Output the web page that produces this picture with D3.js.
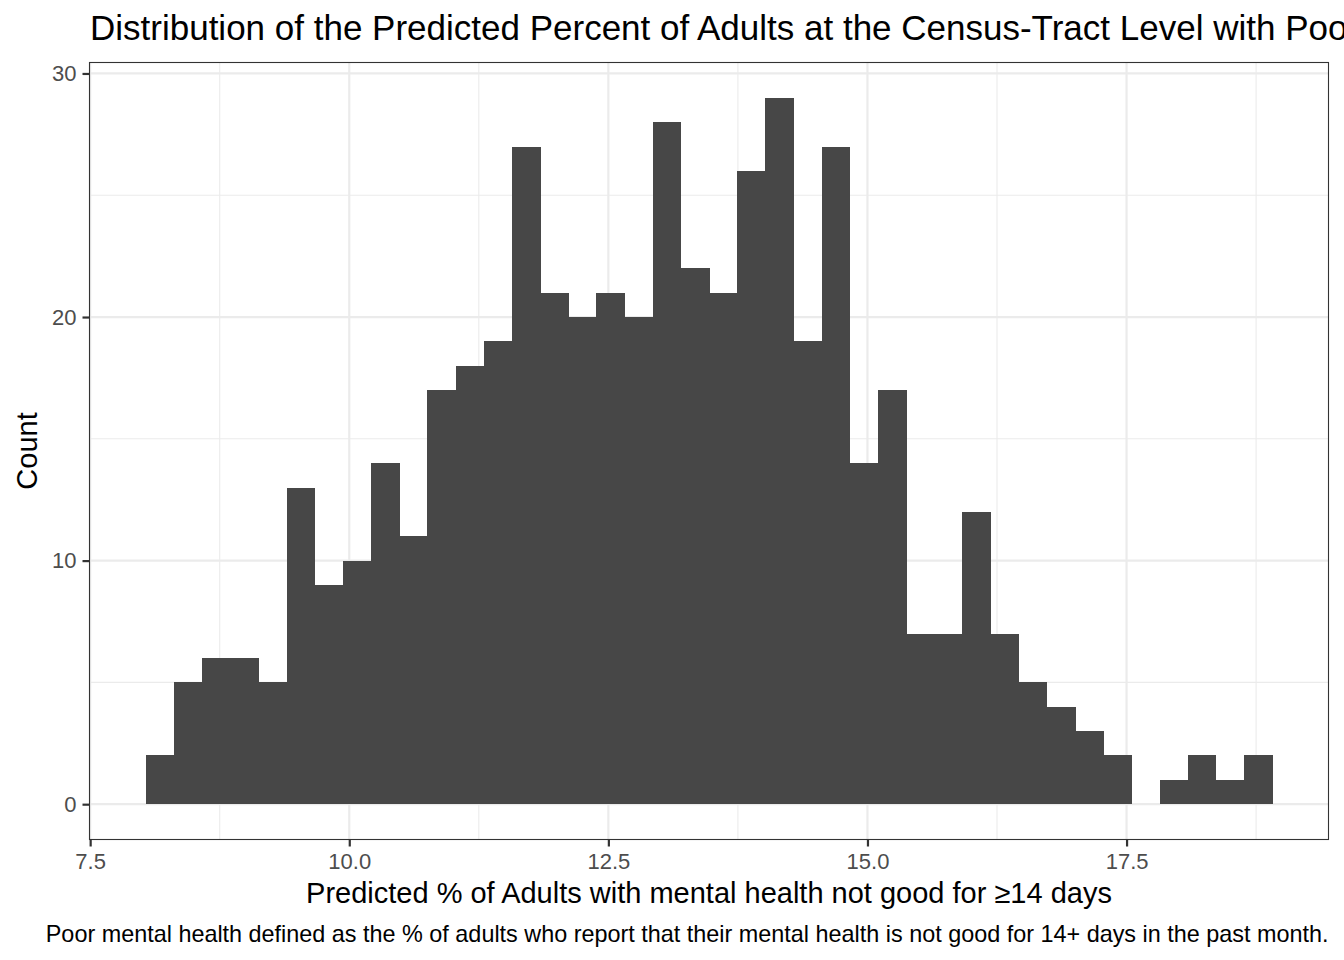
<!DOCTYPE html>
<html>
<head>
<meta charset="utf-8">
<script src="https://cdn.jsdelivr.net/npm/d3@7"></script>
<style>
  html, body { margin: 0; padding: 0; background: #fff; }
  svg { display: block; font-family: "Liberation Sans", Arial, Helvetica, sans-serif; }
</style>
</head>
<body>
<script>
// ---- Data ----
const binStart = 8.037;          // left edge of first bin
const binWidth = 0.2717;         // width of each bin
const counts = [2, 5, 6, 6, 5, 13, 9, 10, 14, 11,
                17, 18, 19, 27, 21, 20, 21, 20, 28, 22,
                21, 26, 29, 19, 27, 14, 17, 7, 7, 12,
                7, 5, 4, 3, 2, 0, 1, 2, 1, 2];
const xTicks = [7.5, 10.0, 12.5, 15.0, 17.5];
const xMinor = [8.75, 11.25, 13.75, 16.25, 18.75];
const yTicks = [0, 10, 20, 30];
const yMinor = [5, 15, 25];
const titleText = "Distribution of the Predicted Percent of Adults at the Census-Tract Level with Poor Mental Health";
const xTitle = "Predicted % of Adults with mental health not good for \u226514 days";
const yTitle = "Count";
const captionText = "Poor mental health defined as the % of adults who report that their mental health is not good for 14+ days in the past month.";

const bins = counts.map((c, i) => ({ x0: binStart + i * binWidth, x1: binStart + (i + 1) * binWidth, count: c }));

// ---- Layout ----
const W = 1344, H = 960;
const panel = { left: 89.5, right: 1328.5, top: 62.5, bottom: 839.5 };

const xMin = binStart, xMax = binStart + counts.length * binWidth;
const xPad = (xMax - xMin) * 0.05;
const x = d3.scaleLinear().domain([xMin - xPad, xMax + xPad]).range([panel.left, panel.right]);
const yMaxC = d3.max(counts);
const y = d3.scaleLinear().domain([-yMaxC * 0.05, yMaxC * 1.05]).range([panel.bottom, panel.top]);

const svg = d3.select("body").append("svg").attr("width", W).attr("height", H);

svg.append("rect").attr("x", panel.left).attr("y", panel.top)
  .attr("width", panel.right - panel.left).attr("height", panel.bottom - panel.top)
  .attr("fill", "#fff");

const grid = svg.append("g");
grid.selectAll(".xminor").data(xMinor).join("line")
  .attr("x1", d => x(d)).attr("x2", d => x(d)).attr("y1", panel.top).attr("y2", panel.bottom)
  .attr("stroke", "#ebebeb").attr("stroke-width", 1.1);
grid.selectAll(".yminor").data(yMinor).join("line")
  .attr("y1", d => y(d)).attr("y2", d => y(d)).attr("x1", panel.left).attr("x2", panel.right)
  .attr("stroke", "#ebebeb").attr("stroke-width", 1.1);
grid.selectAll(".xmajor").data(xTicks).join("line")
  .attr("x1", d => x(d)).attr("x2", d => x(d)).attr("y1", panel.top).attr("y2", panel.bottom)
  .attr("stroke", "#ebebeb").attr("stroke-width", 2.2);
grid.selectAll(".ymajor").data(yTicks).join("line")
  .attr("y1", d => y(d)).attr("y2", d => y(d)).attr("x1", panel.left).attr("x2", panel.right)
  .attr("stroke", "#ebebeb").attr("stroke-width", 2.2);

// Bars
svg.append("g").attr("shape-rendering", "crispEdges").selectAll("rect").data(bins.filter(b => b.count > 0)).join("rect")
  .attr("x", d => x(d.x0))
  .attr("width", d => x(d.x1) - x(d.x0) + 0.5)
  .attr("y", d => y(d.count))
  .attr("height", d => y(0) - y(d.count))
  .attr("fill", "#474747");

// Panel border
svg.append("rect").attr("x", panel.left).attr("y", panel.top)
  .attr("width", panel.right - panel.left).attr("height", panel.bottom - panel.top)
  .attr("fill", "none").attr("stroke", "#333333").attr("stroke-width", 1.1);

// Axes
const xAxis = d3.axisBottom(x).tickValues(xTicks).tickFormat(d3.format(".1f")).tickSize(7).tickPadding(7);
const gx = svg.append("g").attr("transform", `translate(0,${panel.bottom})`).call(xAxis);
const yAxis = d3.axisLeft(y).tickValues(yTicks).tickFormat(d3.format("d")).tickSize(7).tickPadding(6);
const gy = svg.append("g").attr("transform", `translate(${panel.left},0)`).call(yAxis);
[gx, gy].forEach(g => {
  g.select(".domain").remove();
  g.selectAll(".tick line").attr("stroke", "#333333").attr("stroke-width", 2.2);
  g.selectAll(".tick text").attr("fill", "#4d4d4d").attr("font-size", "22px")
    .attr("font-family", "Liberation Sans, Arial, sans-serif");
});

// Title
svg.append("text").attr("x", 90).attr("y", 40)
  .attr("font-size", "35px").attr("fill", "#000").text(titleText);

// Axis titles
svg.append("text").attr("x", (panel.left + panel.right) / 2).attr("y", 903)
  .attr("text-anchor", "middle").attr("font-size", "29px").attr("fill", "#000").text(xTitle);
svg.append("text").attr("transform", `translate(37,${(panel.top + panel.bottom) / 2}) rotate(-90)`)
  .attr("text-anchor", "middle").attr("font-size", "29px").attr("fill", "#000").text(yTitle);

// Caption
svg.append("text").attr("x", panel.right).attr("y", 942)
  .attr("text-anchor", "end").attr("font-size", "23.4px").attr("fill", "#000").text(captionText);
</script>
</body>
</html>
